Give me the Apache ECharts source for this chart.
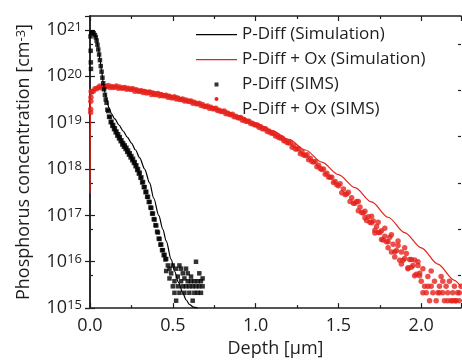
<!DOCTYPE html>
<html><head><meta charset="utf-8">
<script src="https://cdn.jsdelivr.net/npm/echarts@6/dist/echarts.min.js"></script>
<style>html,body{margin:0;padding:0;background:#fff}#c{width:462px;height:363px}</style>
</head><body><div id="c"></div>
<script>
// Series names
const nameSimP = 'P-Diff (Simulation)';
const nameSimPOx = 'P-Diff + Ox (Simulation)';
const nameSimsP = 'P-Diff (SIMS)';
const nameSimsPOx = 'P-Diff + Ox (SIMS)';

// All pairs: [depth in µm, log10(concentration in cm^-3)]
const simP = [[0,20.95],[0.01,20.97],[0.02,20.95],[0.03,20.90],[0.04,20.79],[0.05,20.61],[0.06,20.37],[0.07,20.11],[0.08,19.86],[0.09,19.65],[0.10,19.49],[0.115,19.32],[0.13,19.19],[0.15,19.08],[0.175,18.95],[0.20,18.82],[0.225,18.69],[0.25,18.56],[0.275,18.41],[0.30,18.24],[0.33,18.00],[0.36,17.70],[0.385,17.37],[0.415,17.00],[0.44,16.70],[0.46,16.45],[0.49,16.05],[0.51,15.80],[0.535,15.55],[0.56,15.33],[0.58,15.18],[0.60,15.08],[0.625,15.02],[0.65,15.00]];

const simPOx = [[0,17.47],[0.002,19.30],[0.005,19.62],[0.015,19.70],[0.04,19.75],[0.08,19.78],[0.14,19.78],[0.2,19.76],[0.3,19.72],[0.4,19.66],[0.5,19.58],[0.6,19.48],[0.7,19.38],[0.8,19.27],[0.9,19.14],[1.0,18.99],[1.1,18.83],[1.2,18.64],[1.3,18.41],[1.4,18.15],[1.5,17.88],[1.6,17.60],[1.7,17.29],[1.8,16.96],[1.9,16.63],[2.0,16.30],[2.1,15.95],[2.2,15.60],[2.24,15.46]];

const simsP = [[0.003,20.86],[0.004,20.55],[0.005,20.30],[0.006,20.16],
[0.008,20.93],[0.015,20.95],[0.022,20.93],[0.03,20.89],[0.035,20.84],[0.04,20.77],[0.045,20.68],[0.05,20.58],[0.055,20.47],[0.06,20.35],[0.065,20.22],[0.07,20.10],[0.075,19.97],[0.08,19.85],[0.085,19.72],[0.09,19.60],[0.095,19.50],
[0.100,19.43],[0.105,19.28],[0.110,19.25],[0.115,19.13],[0.120,19.12],[0.125,19.01],[0.130,19.02],[0.135,18.93],[0.140,18.95],[0.145,18.86],[0.150,18.88],[0.155,18.79],[0.160,18.81],[0.165,18.72],[0.170,18.75],[0.175,18.66],[0.180,18.69],[0.185,18.60],[0.190,18.62],[0.195,18.53],[0.200,18.56],[0.205,18.48],[0.210,18.51],[0.215,18.43],[0.220,18.46],[0.225,18.37],[0.230,18.40],[0.235,18.31],[0.240,18.34],[0.245,18.25],[0.250,18.28],[0.255,18.19],[0.260,18.22],[0.265,18.13],[0.270,18.15],[0.275,18.06],[0.280,18.08],[0.285,17.98],[0.290,18.00],[0.295,17.90],[0.300,17.92],[0.305,17.81],[0.310,17.82],[0.315,17.71],[0.320,17.72],[0.325,17.61],[0.330,17.61],[0.335,17.50],[0.340,17.51],[0.345,17.40],[0.350,17.40],[0.355,17.29],[0.360,17.29],[0.365,17.17],[0.370,17.16],[0.375,17.04],[0.380,17.04],[0.385,16.92],[0.390,16.91],[0.395,16.79],[0.400,16.78],[0.405,16.65],[0.410,16.63],[0.415,16.50],[0.420,16.49],[0.425,16.37],[0.430,16.37],[0.435,16.25],[0.440,16.25],[0.445,16.14],[0.450,16.15],[0.455,16.05],[0.460,16.06],
[0.46,15.80],[0.47,15.92],[0.48,15.85],[0.48,15.64],[0.49,15.75],[0.50,15.92],[0.50,15.47],[0.51,15.58],[0.51,15.33],[0.52,15.85],[0.52,15.16],[0.53,15.68],[0.53,15.47],[0.54,15.92],[0.54,15.33],[0.55,15.58],[0.55,15.85],[0.56,15.75],[0.56,15.47],[0.57,15.64],[0.57,15.33],[0.58,15.85],[0.58,15.47],[0.59,15.58],[0.59,15.75],[0.60,15.47],[0.60,15.33],[0.61,15.68],[0.61,15.58],[0.62,15.47],[0.62,15.16],[0.63,15.58],[0.63,15.33],[0.64,16.00],[0.64,15.47],[0.65,15.58],[0.65,15.33],[0.66,15.75],[0.66,15.47],[0.67,15.58],[0.67,15.33],[0.68,15.64],[0.68,15.47]];

const simsPOx = [[0.004,19.22],[0.004,19.29],[0.005,19.46],[0.006,19.55],[0.007,19.67],
[0.01,19.66],[0.02,19.68],[0.03,19.73],[0.04,19.73],[0.05,19.76],[0.06,19.79],[0.07,19.75],[0.08,19.79],[0.09,19.77],[0.10,19.78],
[0.11,19.80],[0.12,19.76],[0.13,19.78],[0.14,19.76],[0.15,19.77],[0.16,19.79],[0.17,19.74],[0.18,19.77],[0.19,19.74],[0.20,19.75],
[0.21,19.76],[0.22,19.72],[0.23,19.74],[0.24,19.72],[0.25,19.72],[0.26,19.73],[0.27,19.68],[0.28,19.71],[0.29,19.68],[0.30,19.68],
[0.31,19.69],[0.32,19.65],[0.33,19.67],[0.34,19.64],[0.35,19.65],[0.36,19.66],[0.37,19.61],[0.38,19.64],[0.39,19.61],[0.40,19.61],
[0.41,19.63],[0.42,19.58],[0.43,19.60],[0.44,19.58],[0.45,19.58],[0.46,19.59],[0.47,19.55],[0.48,19.57],[0.49,19.54],[0.50,19.54],
[0.51,19.56],[0.52,19.51],[0.53,19.53],[0.54,19.50],[0.55,19.50],[0.56,19.51],[0.57,19.47],[0.58,19.49],[0.59,19.46],[0.60,19.46],
[0.61,19.47],[0.62,19.42],[0.63,19.44],[0.64,19.41],[0.65,19.41],[0.66,19.42],[0.67,19.37],[0.68,19.39],[0.69,19.35],[0.70,19.35],
[0.71,19.36],[0.72,19.31],[0.73,19.33],[0.74,19.30],[0.75,19.30],[0.76,19.31],[0.77,19.26],[0.78,19.27],[0.79,19.24],[0.80,19.24],
[0.81,19.25],[0.82,19.19],[0.83,19.21],[0.84,19.18],[0.85,19.17],[0.86,19.18],[0.87,19.13],[0.88,19.14],[0.89,19.11],[0.90,19.10],
[0.91,19.11],[0.92,19.05],[0.93,19.07],[0.94,19.03],[0.95,19.03],[0.96,19.03],[0.97,18.98],[0.98,18.99],[0.99,18.96],[1.00,18.95],
[1.01,18.95],[1.02,18.90],[1.03,18.91],[1.04,18.87],[1.05,18.87],[1.06,18.87],[1.07,18.81],[1.08,18.82],[1.09,18.78],[1.10,18.77],
[1.11,18.77],[1.12,18.71],[1.13,18.72],[1.14,18.68],[1.15,18.67],[1.16,18.67],[1.17,18.61],[1.18,18.61],[1.19,18.57],[1.20,18.56],
[1.21,18.57],[1.22,18.47],[1.23,18.50],[1.24,18.43],[1.25,18.43],[1.26,18.44],[1.27,18.33],[1.28,18.37],[1.29,18.30],[1.30,18.29],
[1.31,18.31],[1.32,18.20],[1.33,18.23],[1.34,18.16],[1.35,18.15],[1.36,18.16],[1.37,18.05],[1.38,18.08],[1.39,18.01],[1.40,17.99],
[1.41,18.00],[1.42,17.89],[1.43,17.91],[1.44,17.83],[1.45,17.82],[1.46,17.82],[1.47,17.71],[1.48,17.73],[1.49,17.66],[1.50,17.64],
[1.51,17.68],[1.52,17.49],[1.53,17.57],[1.54,17.45],[1.55,17.46],[1.56,17.50],[1.57,17.30],[1.58,17.38],[1.59,17.26],[1.60,17.26],
[1.61,17.30],[1.62,17.10],[1.63,17.18],[1.64,17.06],[1.65,17.05],[1.66,17.09],[1.67,16.89],[1.68,16.97],[1.69,16.85],[1.70,16.84],
[1.71,16.88],[1.72,16.68],[1.73,16.76],[1.74,16.63],[1.75,16.63],[1.76,16.67],[1.77,16.47],[1.78,16.55],[1.79,16.43],[1.80,16.43],
[1.81,16.53],[1.82,16.21],[1.83,16.38],[1.84,16.21],[1.85,16.24],[1.86,16.35],[1.87,16.03],[1.88,16.21],[1.89,16.03],[1.90,16.07],
[1.91,16.18],[1.92,15.87],[1.93,16.05],[1.94,15.88],[1.95,15.92],[1.96,16.04],[1.97,15.73],[1.98,15.92],[1.99,15.75],
[1.62,17.30],[1.66,16.95],[1.70,16.98],[1.72,16.62],[1.74,16.85],[1.76,16.48],[1.78,16.72],[1.80,16.30],[1.82,16.58],[1.84,16.10],[1.86,16.45],[1.88,15.95],[1.90,16.30],[1.92,15.85],[1.94,16.05],[1.96,15.70],[1.98,16.00],
[1.99,15.70],[2.00,15.58],[2.01,15.85],[2.02,15.47],[2.03,15.33],[2.04,15.68],[2.05,15.16],[2.06,15.47],[2.07,15.33],[2.08,15.58],[2.09,15.16],[2.10,15.33],[2.11,15.47],[2.12,15.68],[2.13,15.33],[2.14,15.16],[2.15,15.47],[2.16,15.33],[2.17,15.58],[2.18,15.16],[2.19,15.33],[2.20,15.47],[2.21,15.16],[2.22,15.33],[2.23,15.16],[2.24,15.47],[2.06,15.80],[2.11,15.33],[2.16,15.16],[2.205,15.16],[2.01,15.33],[2.04,15.47],[2.13,15.58],[2.19,15.16],[2.23,15.33]];

// Axis extents and minor tick positions
const xMin = 0, xMax = 2.24, xStep = 0.5;
const yMin = 1e15, yMax = 2e21;
const yMinorTicks = [5e15, 5e16, 5e17, 5e18, 5e19, 5e20];

const toConc = arr => arr.map(p => [p[0], Math.pow(10, p[1])]);

const RED = '#e5231d';
const INK = '#1e1e1e';
const FONT = 'Open Sans';

const chart = echarts.init(document.getElementById('c'), null, {renderer: 'canvas'});

const supRich = {
  b: {fontSize: 18, lineHeight: 18, verticalAlign: 'bottom', color: INK, fontFamily: FONT},
  s: {fontSize: 13, lineHeight: 13, padding: [0, 0, 8, 0], verticalAlign: 'top', color: INK, fontFamily: FONT}
};
const nameRich = {
  n: {fontSize: 18, lineHeight: 18, verticalAlign: 'bottom', color: INK, fontFamily: FONT},
  s: {fontSize: 13, lineHeight: 13, padding: [0, 0, 8, 0], verticalAlign: 'top', color: INK, fontFamily: FONT}
};

const axisLineStyle = {color: INK, width: 1.5};
const tickStyle = {color: INK, width: 1.2};

function yAxisBase(pos, extra) {
  return Object.assign({
    type: 'log', logBase: 10, min: yMin, max: yMax, position: pos,
    axisLine: {show: true, lineStyle: axisLineStyle},
    axisTick: {show: true, inside: true, length: 5, lineStyle: tickStyle},
    axisLabel: {show: false},
    splitLine: {show: false}
  }, extra);
}

// Legend layout (item box 41 x 14, 8 px gap) and icon shapes
const legendLeft = 196, legendTop = 26, legendItemW = 41, legendItemH = 14, legendGap = 8;
const lineIcon = 'path://M0,0M41,14M0,6.4h41v1.3h-41z';
const dotIcon = 'path://M0,0M41,14M19.7,5L21.3,5L22.5,6.2L22.5,7.8L21.3,9L19.7,9L18.5,7.8L18.5,6.2Z';

const option = {
  animation: false,
  textStyle: {fontFamily: FONT},
  grid: {left: 90, right: 1, top: 16, bottom: 47},
  legend: {
    orient: 'vertical', left: legendLeft, top: legendTop, padding: 0,
    itemWidth: legendItemW, itemHeight: legendItemH, itemGap: legendGap,
    textStyle: {fontSize: 17, color: INK, fontFamily: FONT},
    itemStyle: {borderWidth: 0},
    data: [
      {name: nameSimP, icon: lineIcon},
      {name: nameSimPOx, icon: lineIcon},
      {name: nameSimsP, icon: 'path://M0,0M41,14M18.5,5L22.5,5L22.5,9L18.5,9Z'},
      {name: nameSimsPOx, icon: dotIcon, itemStyle: {color: RED, opacity: 1}}
    ]
  },
  // red marker for the 4th legend row (drawn as graphic, same legend box geometry)
  graphic: [{
    type: 'circle', z: 100,
    shape: {cx: legendLeft + legendItemW / 2, cy: legendTop + 3 * (legendItemH + legendGap) + legendItemH / 2, r: 2},
    style: {fill: RED}
  }],
  xAxis: [
    {
      type: 'value', min: xMin, max: xMax, interval: xStep, position: 'bottom',
      name: 'Depth [μm]', nameLocation: 'middle', nameGap: 31,
      nameTextStyle: {fontSize: 18, color: INK, fontFamily: FONT},
      axisLine: {show: true, lineStyle: axisLineStyle},
      axisTick: {show: true, inside: true, length: 5, lineStyle: tickStyle},
      minorTick: {show: true, splitNumber: 2, length: 3, lineStyle: tickStyle},
      axisLabel: {show: true, fontSize: 18, color: INK, fontFamily: FONT, margin: 9,
        showMaxLabel: false, formatter: v => v.toFixed(1)},
      splitLine: {show: false}, minorSplitLine: {show: false}
    },
    {
      type: 'value', min: xMin, max: xMax, interval: xStep, position: 'top',
      axisLine: {show: true, lineStyle: axisLineStyle},
      axisTick: {show: true, inside: true, length: 5, lineStyle: tickStyle},
      minorTick: {show: true, splitNumber: 2, length: 3, lineStyle: tickStyle},
      axisLabel: {show: false},
      splitLine: {show: false}, minorSplitLine: {show: false}
    }
  ],
  yAxis: [
    yAxisBase('left', {
      name: '{n|Phosphorus concentration [cm}{s|-3}{n|]}',
      nameLocation: 'middle', nameGap: 57, nameRotate: 90,
      nameTextStyle: {rich: nameRich},
      axisLabel: {show: true, margin: 8, showMaxLabel: false, rich: supRich,
        formatter: v => {
          const l = Math.log10(v), e = Math.round(l);
          if (Math.abs(l - e) > 1e-6) return '';
          return '{b|10}{s|' + e + '}';
        }}
    }),
    yAxisBase('right', {}),
    yAxisBase('left', {axisLine: {show: false},
      axisTick: {show: true, inside: true, length: 3, lineStyle: tickStyle, customValues: yMinorTicks}}),
    yAxisBase('right', {axisLine: {show: false},
      axisTick: {show: true, inside: true, length: 3, lineStyle: tickStyle, customValues: yMinorTicks}})
  ],
  series: [
    {name: nameSimsP, type: 'scatter', data: toConc(simsP), symbol: 'rect', symbolSize: 4.5,
      itemStyle: {color: '#000'}, z: 3},
    {name: nameSimsPOx, type: 'scatter', data: toConc(simsPOx), symbol: 'circle', symbolSize: 5.5,
      itemStyle: {color: RED}, z: 2},
    {name: nameSimPOx, type: 'line', data: toConc(simPOx), symbol: 'none', smooth: 0.3, smoothMonotone: 'x',
      lineStyle: {color: RED, width: 1.2}, itemStyle: {color: RED}, z: 4},
    {name: nameSimP, type: 'line', data: toConc(simP), symbol: 'none', smooth: 0.3, smoothMonotone: 'x',
      lineStyle: {color: '#000', width: 1.2}, itemStyle: {color: '#000'}, z: 5}
  ]
};
chart.setOption(option);
</script>
</body></html>
